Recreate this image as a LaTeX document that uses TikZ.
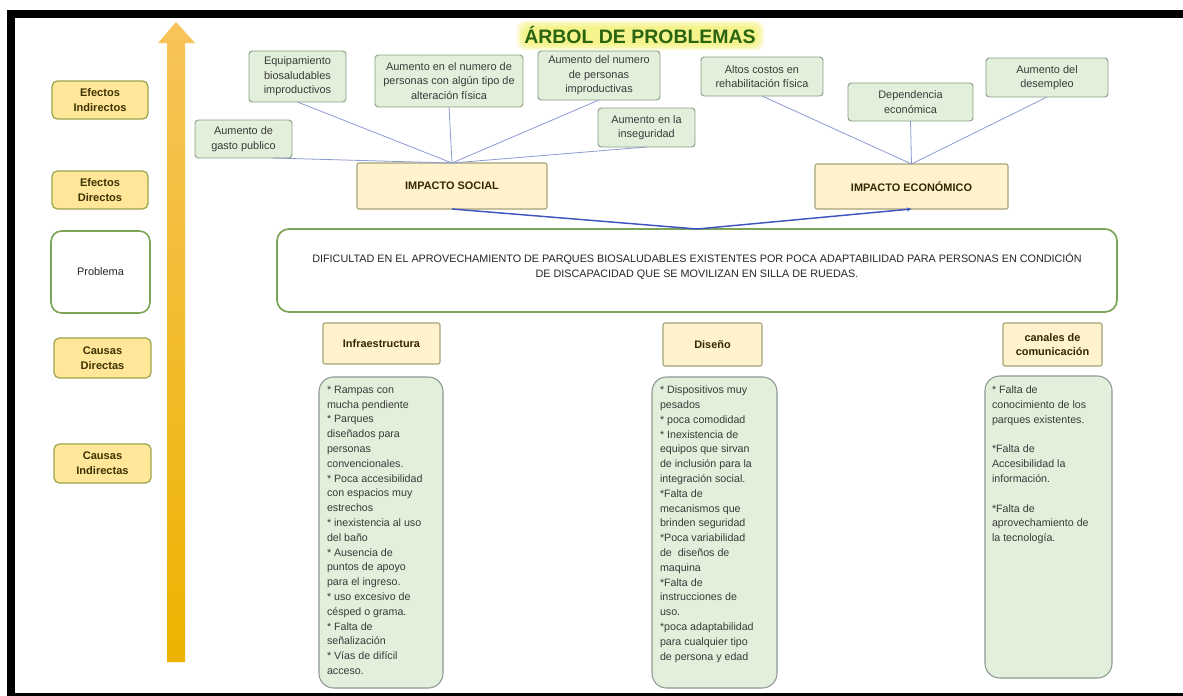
\documentclass[tikz,border=0pt]{standalone}
\usepackage{fontspec}
\setmainfont{Liberation Sans}
\usetikzlibrary{arrows.meta,calc}
\definecolor{effill}{HTML}{E2EFDA}
\definecolor{efdraw}{HTML}{8A9E86}
\definecolor{lsdraw}{HTML}{8C9893}
\definecolor{lblfill}{HTML}{FFE699}
\definecolor{lbldraw}{HTML}{9AA547}
\definecolor{lbltext}{HTML}{3D3300}
\definecolor{hdfill}{HTML}{FFF2CC}
\definecolor{hddraw}{HTML}{A3A37A}
\definecolor{probdraw}{HTML}{7BA457}
\definecolor{thinln}{HTML}{8E9BD2}
\definecolor{mainln}{HTML}{3F56C0}
\definecolor{txt}{HTML}{3A3A3A}
\definecolor{titlegreen}{HTML}{2A6410}
\definecolor{glow}{HTML}{F2EE50}
\definecolor{arrtop}{HTML}{F8C35A}
\definecolor{arrbot}{HTML}{EDB300}
\begin{document}
\begin{tikzpicture}[x=0.75pt,y=-0.75pt,
 every node/.style={inner sep=0pt, outer sep=0pt},
 bx/.style n args={4}{at={({(#1+#3)/2},{(#2+#4)/2})}, minimum width={(#3-#1)*0.75pt}, minimum height={(#4-#2)*0.75pt}},
 effbox/.style={draw=efdraw, fill=effill, rounded corners=2.5pt, line width=0.7pt, align=center, text=txt, font=\fontsize{8.2}{10.9}\selectfont},
 lbl/.style={draw=lbldraw, fill=lblfill, rounded corners=4pt, line width=0.9pt, align=center, text=lbltext, font=\bfseries\fontsize{8.3}{11}\selectfont},
 hdbox/.style={draw=hddraw, fill=hdfill, rounded corners=1.5pt, line width=0.8pt, align=center, text=lbltext!80!black, font=\bfseries\fontsize{8.2}{11}\selectfont},
 listbox/.style={draw=lsdraw, fill=effill, rounded corners=11pt, line width=0.8pt},
 listtext/.style={anchor=north west, align=left, text=txt, font=\fontsize{8}{11.1}\selectfont},
 thinlink/.style={draw=thinln, line width=0.6pt},
 mainlink/.style={draw=mainln, line width=1.1pt},
 glowlayer/.style={fill=glow, fill opacity=#1, rounded corners=6pt}
]
\useasboundingbox (0,0) rectangle (1183,696);
\fill[white] (0,0) rectangle (1183,696);
% frame
\fill[black] (7,10) rectangle (1183,18);
\fill[black] (7,10) rectangle (15,696);
\fill[black] (7,693) rectangle (1183,696);
% vertical arrow
\shade[top color=arrtop, bottom color=arrbot] (167,662) -- (167,43) -- (158,43) -- (176,22) -- (195,43) -- (185,43) -- (185,662) -- cycle;
% title with soft glow
\fill[glowlayer=0.25] (517,21) rectangle (764,50);
\fill[glowlayer=0.3] (520,23) rectangle (761,48);
\fill[glowlayer=0.35] (523,26) rectangle (758,45);
\node[font=\bfseries\fontsize{14.6}{16}\selectfont, text=titlegreen] (title) at (640,35) {ÁRBOL DE PROBLEMAS};
% left labels
\node[lbl, bx={52}{81}{148}{119}] (ei) {Efectos\\Indirectos};
\node[lbl, bx={52}{171}{148}{209}] (ed) {Efectos\\Directos};
\node[draw=probdraw, fill=white, rounded corners=8pt, line width=1.2pt, bx={51}{231}{150}{313}, text=black!85, font=\fontsize{8.2}{10}\selectfont] (pl) {Problema};
\node[lbl, bx={54}{338}{151}{378}] (cd) {Causas\\Directas};
\node[lbl, bx={54}{444}{151}{483}] (ci) {Causas\\Indirectas};
% effects
\node[effbox, bx={195}{120}{292}{158}] (gasto) {Aumento de\\gasto publico};
\node[effbox, bx={249}{51}{346}{102}] (equip) {Equipamiento\\biosaludables\\improductivos};
\node[effbox, bx={375}{55}{523}{107}] (alter) {Aumento en el numero de\\personas con algún tipo de\\alteración física};
\node[effbox, bx={538}{51}{660}{100}] (improd) {Aumento del numero\\de personas\\improductivas};
\node[effbox, bx={598}{108}{695}{147}] (inseg) {Aumento en la\\inseguridad};
\node[effbox, bx={701}{57}{823}{96}] (altos) {Altos costos en\\rehabilitación física};
\node[effbox, bx={848}{83}{973}{121}] (depen) {Dependencia\\económica};
\node[effbox, bx={986}{58}{1108}{97}] (desem) {Aumento del\\desempleo};
% impacts
\node[hdbox, bx={357}{163}{547}{209}] (isoc) {IMPACTO SOCIAL};
\node[hdbox, bx={815}{164}{1008}{209}] (ieco) {IMPACTO ECONÓMICO};
% problem
\node[draw=probdraw, fill=white, rounded corners=9pt, line width=1.3pt, bx={277}{229}{1117}{312}, align=center, text=black!85, font=\fontsize{8.1}{11.2}\selectfont] (prob) {DIFICULTAD EN EL APROVECHAMIENTO DE PARQUES BIOSALUDABLES EXISTENTES POR POCA ADAPTABILIDAD PARA PERSONAS EN CONDICIÓN\\DE DISCAPACIDAD QUE SE MOVILIZAN EN SILLA DE RUEDAS.\\[-3.7pt]\mbox{}};
% causes headers
\node[hdbox, bx={323}{323}{440}{364}] (infra) {Infraestructura};
\node[hdbox, bx={663}{323}{762}{366}] (dise) {Diseño};
\node[hdbox, bx={1003}{323}{1102}{366}] (canal) {canales de\\comunicación};
% cause lists
\node[listbox, bx={319}{377}{443}{688}] (infralist) {};
\node[listbox, bx={652}{377}{777}{688}] (diselist) {};
\node[listbox, bx={985}{376}{1112}{678}] (canallist) {};
\node[listtext] (infratxt) at (327,386) {* Rampas con\\mucha pendiente\\* Parques\\diseñados para\\personas\\convencionales.\\* Poca accesibilidad\\con espacios muy\\estrechos\\* inexistencia al uso\\del baño\\* Ausencia de\\puntos de apoyo\\para el ingreso.\\* uso excesivo de\\césped o grama.\\* Falta de\\señalización\\* Vías de difícil\\acceso.};
\node[listtext] (disetxt) at (660,386) {* Dispositivos muy\\pesados\\* poca comodidad\\* Inexistencia de\\equipos que sirvan\\de inclusión para la\\integración social.\\*Falta de\\mecanismos que\\brinden seguridad\\*Poca variabilidad\\de\ \ diseños de\\maquina\\*Falta de\\instrucciones de\\uso.\\*poca adaptabilidad\\para cualquier tipo\\de persona y edad};
\node[listtext] (canaltxt) at (992,386) {* Falta de\\conocimiento de los\\parques existentes.\\[11.1pt]*Falta de\\Accesibilidad la\\información.\\[11.1pt]*Falta de\\aprovechamiento de\\la tecnología.};
% connectors effects
\draw[thinlink] ($(gasto.south)!0.6!(gasto.south east)$) -- (isoc.north);
\draw[thinlink] (equip.south) -- (isoc.north);
\draw[thinlink] (alter.south) -- (isoc.north);
\draw[thinlink] (improd.south) -- (isoc.north);
\draw[thinlink] (inseg.south) -- (isoc.north);
\draw[thinlink] (altos.south) -- (ieco.north);
\draw[thinlink] (depen.south) -- (ieco.north);
\draw[thinlink] (desem.south) -- (ieco.north);
% main connectors
\draw[mainlink, -{Stealth[length=3.5pt,width=3pt]}] (isoc.south) -- (prob.north) -- (ieco.south);
\end{tikzpicture}
\end{document}
